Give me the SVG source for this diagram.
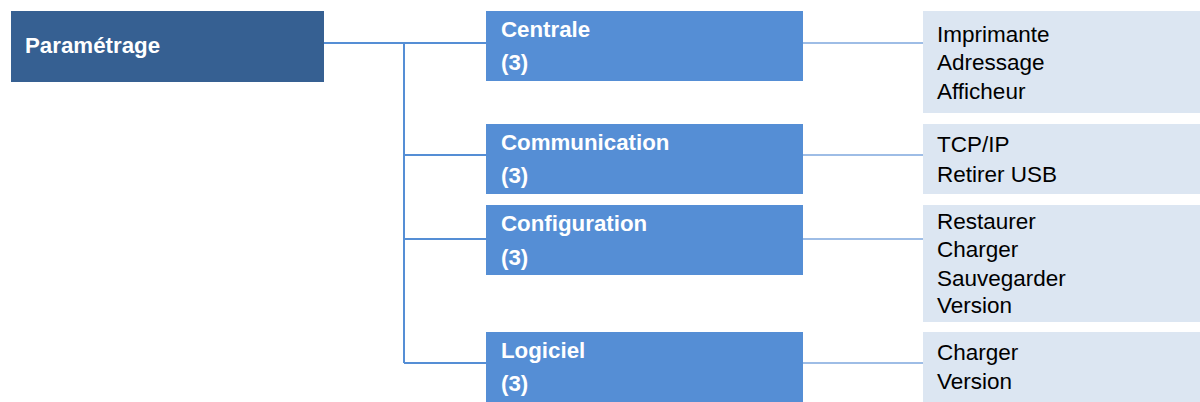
<svg xmlns="http://www.w3.org/2000/svg" width="1200" height="402" viewBox="0 0 1200 402">
<style>
.root{fill:#366092}
.node{fill:#558ED5}
.det{fill:#DCE6F2}
.tb{font-family:"Liberation Sans",Arial,sans-serif;font-weight:bold;font-size:22.3px;fill:#FFFFFF}
.tr{font-family:"Liberation Sans",Arial,sans-serif;font-size:22.5px;fill:#000000}
.c1{stroke:#558ED5;stroke-width:2;fill:none}
.c2{stroke:#7FA8DE;stroke-width:1.5;fill:none}
</style>
<rect width="1200" height="402" fill="#FFFFFF"/>
<g id="connectors">
<path class="c1" d="M324 43 H486 M404 43 V363 M404 155 H486 M404 239 H486 M404 363 H486"/>
<path class="c2" d="M803 43 H923 M803 155 H923 M803 239 H923 M803 363 H923"/>
</g>
<g id="parametrage">
<rect class="root" x="11" y="11" width="313" height="71"/>
<text class="tb" x="25" y="53">Paramétrage</text>
</g>
<g id="centrale">
<rect class="node" x="486" y="11" width="317" height="70"/>
<text class="tb" x="501" y="37">Centrale</text>
<text class="tb" x="501" y="70">(3)</text>
</g>
<g id="communication">
<rect class="node" x="486" y="124" width="317" height="70"/>
<text class="tb" x="501" y="150">Communication</text>
<text class="tb" x="501" y="183">(3)</text>
</g>
<g id="configuration">
<rect class="node" x="486" y="205" width="317" height="70"/>
<text class="tb" x="501" y="231">Configuration</text>
<text class="tb" x="501" y="265">(3)</text>
</g>
<g id="logiciel">
<rect class="node" x="486" y="332" width="317" height="70"/>
<text class="tb" x="501" y="358">Logiciel</text>
<text class="tb" x="501" y="391">(3)</text>
</g>
<g id="details-centrale">
<rect class="det" x="923" y="11" width="277" height="102"/>
<text class="tr" x="937" y="42">Imprimante</text>
<text class="tr" x="937" y="70">Adressage</text>
<text class="tr" x="937" y="99">Afficheur</text>
</g>
<g id="details-communication">
<rect class="det" x="923" y="124" width="277" height="70"/>
<text class="tr" x="937" y="152">TCP/IP</text>
<text class="tr" x="937" y="182">Retirer USB</text>
</g>
<g id="details-configuration">
<rect class="det" x="923" y="205" width="277" height="117"/>
<text class="tr" x="937" y="229">Restaurer</text>
<text class="tr" x="937" y="257">Charger</text>
<text class="tr" x="937" y="286">Sauvegarder</text>
<text class="tr" x="937" y="313">Version</text>
</g>
<g id="details-logiciel">
<rect class="det" x="923" y="332" width="277" height="70"/>
<text class="tr" x="937" y="360">Charger</text>
<text class="tr" x="937" y="389">Version</text>
</g>
</svg>
